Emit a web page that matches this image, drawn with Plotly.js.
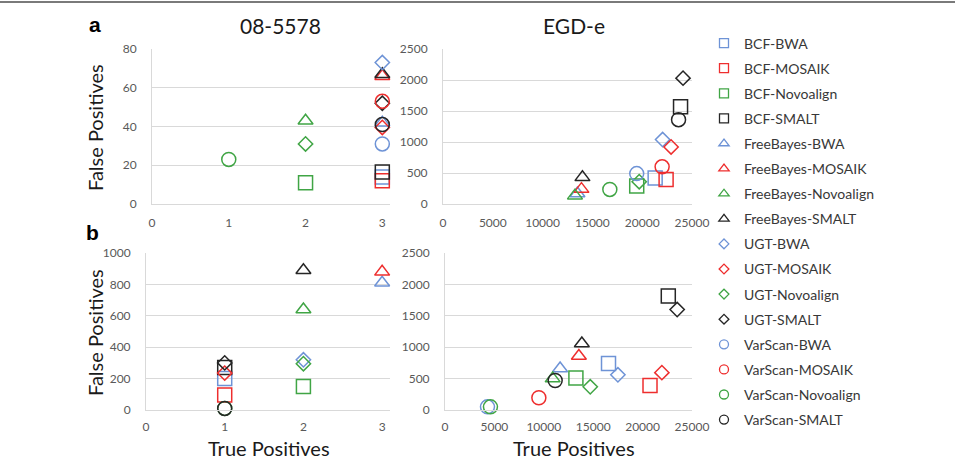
<!DOCTYPE html>
<html>
<head>
<meta charset="utf-8">
<script src="https://cdn.plot.ly/plotly-3.0.1.min.js"></script>
<style>html,body{margin:0;padding:0;background:#fff}#chart{width:955px;height:460px}</style>
</head>
<body>
<div id="chart"></div>
<script>
// Series (legend order)
const seriesNames = ["BCF-BWA","BCF-MOSAIK","BCF-Novoalign","BCF-SMALT",
  "FreeBayes-BWA","FreeBayes-MOSAIK","FreeBayes-Novoalign","FreeBayes-SMALT",
  "UGT-BWA","UGT-MOSAIK","UGT-Novoalign","UGT-SMALT",
  "VarScan-BWA","VarScan-MOSAIK","VarScan-Novoalign","VarScan-SMALT"];

// Panel a, 08-5578
const tpA1 = [3,3,2,3, 3,3,2,3, 3,3,2,3, 3,3,1,3];
const fpA1 = [14,12,11,16.5, 42,66,43,67, 73,39.5,31,52, 31,53,23,41];
// Panel a, EGD-e
const tpA2 = [21300,22400,19450,23850, 13500,13900,13250,14000, 22050,22900,19700,24100, 19450,22000,16750,23650];
const fpA2 = [420,395,290,1570, 170,240,135,430, 1040,920,360,2030, 490,600,235,1360];
// Panel b, 08-5578
const tpB1 = [1,1,2,1, 3,3,2,2, 2,1,2,1, null,null,1,1];
const fpB1 = [200,95,150,270, 810,880,640,890, 320,235,295,300, null,null,10,10];
// Panel b, EGD-e
const tpB2 = [16550,20750,13250,22600, 11650,13550,10900,13850, 17500,21950,14700,23500, 4300,9500,4600,11150];
const fpB2 = [740,390,510,1815, 660,860,500,1060, 560,595,370,1600, 50,195,50,470];

const panelTitles = ["08-5578","EGD-e"];
const panelLetters = ["a","b"];
const xAxisTitle = "True Positives";
const yAxisTitle = "False Positives";

const alignerColors = {BWA:"#6E93D6", MOSAIK:"#EE2E2E", Novoalign:"#40A545", SMALT:"#262626"};
const callerSymbols = {BCF:"square-open", FreeBayes:"triangle-up-open", UGT:"diamond-open", VarScan:"circle-open"};
const symbolSizes = {"square-open":14, "triangle-up-open":13, "diamond-open":11, "circle-open":14};
const legendSizes = {"square-open":9, "triangle-up-open":9, "diamond-open":7.5, "circle-open":9};

const panels = [
  {x: tpA1, y: fpA1, xa: "x",  ya: "y"},
  {x: tpA2, y: fpA2, xa: "x2", ya: "y2"},
  {x: tpB1, y: fpB1, xa: "x3", ya: "y3"},
  {x: tpB2, y: fpB2, xa: "x4", ya: "y4"}
];

const traces = [];
seriesNames.forEach((name, i) => {
  const [caller, aligner] = name.split("-");
  const sym = callerSymbols[caller];
  const col = alignerColors[aligner];
  panels.forEach(p => {
    traces.push({
      type: "scatter", mode: "markers", name: name, legendgroup: name,
      showlegend: false, cliponaxis: false,
      x: [p.x[i]], y: [p.y[i]],
      xaxis: p.xa, yaxis: p.ya,
      marker: {symbol: sym, size: symbolSizes[sym], color: col, line: {width: 1.5, color: col}},
      hoverinfo: "name+x+y"
    });
  });
  // legend entry (no visible point, smaller symbol like the reference legend)
  traces.push({
    type: "scatter", mode: "markers", name: name, legendgroup: name,
    showlegend: true, x: [null], y: [null], xaxis: "x", yaxis: "y",
    marker: {symbol: sym, size: legendSizes[sym], color: col, line: {width: 1.3, color: col}}
  });
});

const W = 955, H = 460;
const px = v => v / W, py = v => 1 - v / H;
const tickFont = {family: "Lato, 'Open Sans', sans-serif", size: 12, color: "#595959"};
const gridCol = "#D9D9D9";

function xax(domain, range, dtick, anchor, standoff) {
  return {domain: domain, range: range, dtick: dtick, tick0: 0, anchor: anchor, tickformat: "d",
    showgrid: false, zeroline: false,
    showline: true, linecolor: gridCol, linewidth: 1, ticks: "", tickfont: tickFont,
    ticklabelstandoff: standoff, fixedrange: true};
}
function yax(domain, range, dtick, anchor) {
  return {domain: domain, range: range, dtick: dtick, tick0: 0, anchor: anchor, tickformat: "d",
    showgrid: true, gridcolor: gridCol,
    gridwidth: 1, zeroline: false, showline: true, linecolor: gridCol, linewidth: 1, ticks: "",
    tickfont: tickFont, ticklabelstandoff: 12, fixedrange: true};
}

const titleFont = {family: "Lato, 'Open Sans', sans-serif", size: 21, color: "#1a1a1a"};
const axTitleFont = {family: "Lato, 'Open Sans', sans-serif", size: 20, color: "#1a1a1a"};
const letterFont = {family: "'Liberation Sans', Arial, sans-serif", size: 21, color: "#000"};
function ann(text, x, y, font, angle) {
  return {text: text, x: px(x), y: py(y), xref: "paper", yref: "paper", showarrow: false,
    xanchor: "center", yanchor: "middle", font: font, textangle: angle || 0};
}

const layout = {
  width: W, height: H,
  margin: {l: 0, r: 0, t: 0, b: 0},
  paper_bgcolor: "#fff", plot_bgcolor: "#fff",
  showlegend: true,
  legend: {x: px(704), y: py(27.5), xanchor: "left", yanchor: "top",
    font: {family: "Lato, 'Open Sans', sans-serif", size: 14, color: "#383838"},
    tracegroupgap: 3.9, itemsizing: "trace", bgcolor: "rgba(0,0,0,0)", borderwidth: 0},
  xaxis:  xax([px(152), px(390)], [0, 3.1], 1, "y", 8),
  yaxis:  yax([py(204), py(49)], [0, 80], 20, "x"),
  xaxis2: xax([px(443), px(692)], [0, 25000], 5000, "y2", 8),
  yaxis2: yax([py(204), py(49)], [0, 2500], 500, "x2"),
  xaxis3: xax([px(146), px(390)], [0, 3.1], 1, "y3", 6),
  yaxis3: yax([py(410), py(253)], [0, 1000], 200, "x3"),
  xaxis4: xax([px(445), px(692)], [0, 25000], 5000, "y4", 6),
  yaxis4: yax([py(410), py(253)], [0, 2500], 500, "x4"),
  annotations: [
    ann(panelTitles[0], 280, 25, titleFont),
    ann(panelTitles[1], 574, 25, titleFont),
    ann("<b>" + panelLetters[0] + "</b>", 95, 24, letterFont),
    ann("<b>" + panelLetters[1] + "</b>", 92, 233, letterFont),
    ann(xAxisTitle, 269, 448, axTitleFont),
    ann(xAxisTitle, 574, 448, axTitleFont),
    ann(yAxisTitle, 95, 128, axTitleFont, -90),
    ann(yAxisTitle, 95, 333, axTitleFont, -90)
  ],
  shapes: [
    {type: "line", xref: "paper", yref: "paper", x0: 0, x1: 1, y0: py(2), y1: py(2),
     line: {color: "#7a7a7a", width: 2}}
  ]
};

Plotly.newPlot("chart", traces, layout, {displayModeBar: false, staticPlot: true});
</script>
</body>
</html>
